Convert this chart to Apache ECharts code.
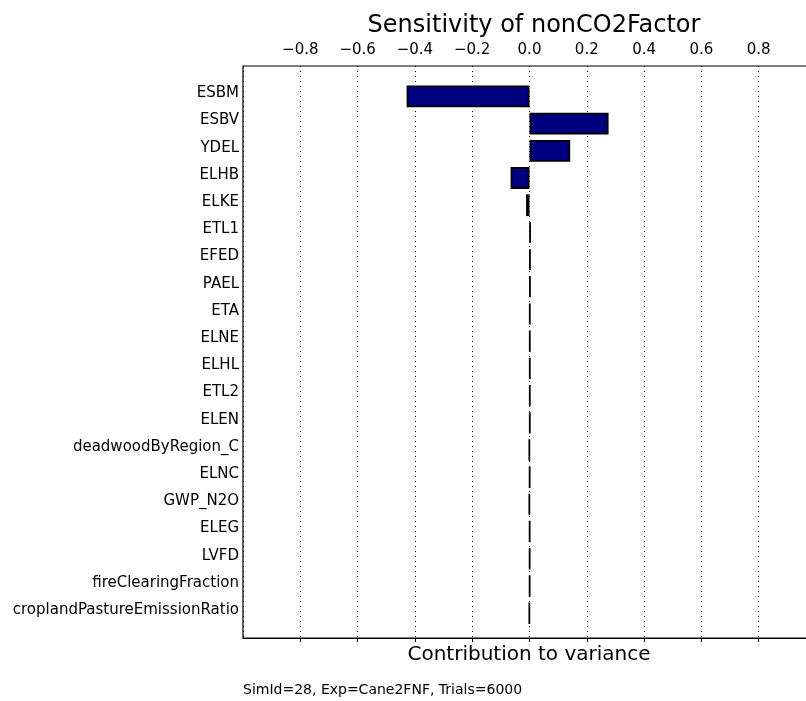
<!DOCTYPE html>
<html>
<head>
<meta charset="utf-8">
<script src="https://cdn.jsdelivr.net/npm/echarts@6/dist/echarts.min.js"></script>
<style>
html,body{margin:0;padding:0;background:#fff;overflow:hidden;}
#chart{width:830px;height:701px;}
</style>
</head>
<body>
<div id="chart"></div>
<script>
var categories = ['ESBM','ESBV','YDEL','ELHB','ELKE','ETL1','EFED','PAEL','ETA','ELNE','ELHL','ETL2','ELEN','deadwoodByRegion_C','ELNC','GWP_N2O','ELEG','LVFD','fireClearingFraction','croplandPastureEmissionRatio'];
var values = [-0.429, 0.276, 0.142, -0.066, -0.012, 0.004, 0.003, 0.003, 0.002, 0.002, 0.002, 0.002, 0.002, -0.001, 0.001, -0.001, 0.001, 0.001, 0.001, -0.001];
var xTicks = {min: -1, max: 1, interval: 0.2};
var titleText = 'Sensitivity of nonCO2Factor';
var xName = 'Contribution to variance';
var footnote = 'SimId=28, Exp=Cane2FNF, Trials=6000';

var FONT = 'DejaVu Sans';
var chart = echarts.init(document.getElementById('chart'), null, {renderer: 'canvas'});
chart.setOption({
  animation: false,
  backgroundColor: '#fff',
  title: {
    text: titleText, left: 529, top: 9, textAlign: 'center',
    textStyle: {fontFamily: FONT, fontSize: 24, fontWeight: 'normal', color: '#000'}
  },
  grid: [
    {left: 243, top: 82.8, width: 573, height: 544},
    {left: 243, top: 66, width: 573, height: 572, show: true, borderColor: '#000', borderWidth: 1.2, backgroundColor: 'transparent'}
  ],
  xAxis: [
    {gridIndex: 0, type: 'value', min: xTicks.min, max: xTicks.max, interval: xTicks.interval, show: false},
    {gridIndex: 1, type: 'value', position: 'top', min: xTicks.min, max: xTicks.max, interval: xTicks.interval,
      axisLine: {show: true, lineStyle: {color: '#000', width: 1.2}},
      axisTick: {show: true, inside: true, length: 4, lineStyle: {color: '#000'}},
      axisLabel: {show: true, showMinLabel: false, showMaxLabel: false, margin: 8, fontFamily: FONT, fontSize: 15, color: '#000',
        formatter: function (v) { return (v < 0 ? '\u2212' : '') + Math.abs(v).toFixed(1); }},
      splitLine: {show: true, lineStyle: {color: '#000', type: [1, 4], width: 1}}
    }
  ],
  yAxis: [
    {gridIndex: 0, type: 'category', inverse: true, data: categories,
      axisLine: {show: false}, axisTick: {show: false},
      axisLabel: {margin: 4, formatter: function (v) { return '{l|' + v + '}'; },
        rich: {l: {fontFamily: FONT, fontSize: 15, color: '#000', padding: [0, 0, 6, 0]}}}},
    {gridIndex: 1, type: 'value', min: 0, max: 1, show: false}
  ],
  series: [{
    type: 'bar', xAxisIndex: 0, yAxisIndex: 0, data: values, barWidth: '80%',
    itemStyle: {color: '#000080', borderColor: '#000', borderWidth: 1.8}
  }],
  graphic: [
    {type: 'text', x: 529, y: 655, style: {text: xName, fontFamily: FONT, fontSize: 20, fill: '#000', textAlign: 'center', textVerticalAlign: 'middle'}},
    {type: 'text', x: 243, y: 690, style: {text: footnote, fontFamily: FONT, fontSize: 14, fill: '#000', textAlign: 'left', textVerticalAlign: 'middle'}}
  ]
});
</script>
</body>
</html>
